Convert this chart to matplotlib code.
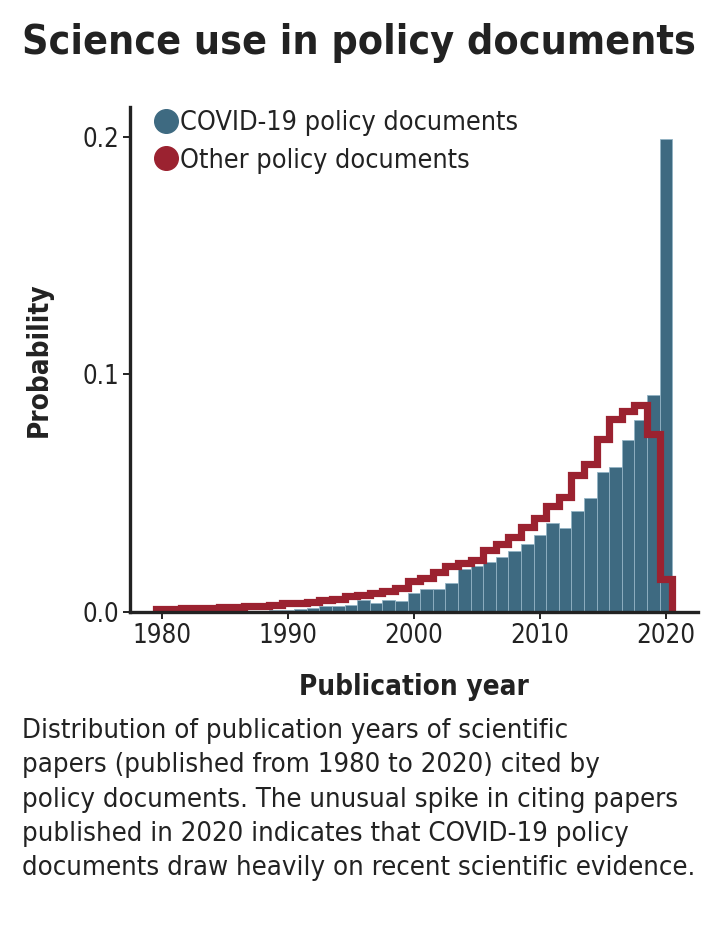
import matplotlib
matplotlib.use("Agg")
import matplotlib.pyplot as plt
from matplotlib.lines import Line2D
import numpy as np

years = list(range(1980, 2021))
covid = [0.0002, 0.0002, 0.0003, 0.0003, 0.0004, 0.0004, 0.0005, 0.0005, 0.0006, 0.0007,
         0.0010, 0.0013, 0.0018, 0.0027, 0.0025, 0.0030, 0.0050, 0.0039, 0.0049, 0.0046,
         0.0081, 0.0095, 0.0097, 0.0122, 0.0182, 0.0194, 0.0212, 0.0230, 0.0258, 0.0285,
         0.0324, 0.0373, 0.0355, 0.0425, 0.0481, 0.0591, 0.0609, 0.0723, 0.0807, 0.0915,
         0.1990]
other = [0.0013, 0.0014, 0.0015, 0.0017, 0.0018, 0.0020, 0.0022, 0.0024, 0.0026, 0.0030,
         0.0036, 0.0040, 0.0044, 0.0049, 0.0055, 0.0068, 0.0072, 0.0078, 0.0088, 0.0100,
         0.0131, 0.0142, 0.0170, 0.0194, 0.0205, 0.0220, 0.0260, 0.0288, 0.0317, 0.0359,
         0.0394, 0.0446, 0.0484, 0.0575, 0.0625, 0.0727, 0.0813, 0.0846, 0.0873, 0.0749,
         0.0138]
xticks = [1980, 1990, 2000, 2010, 2020]
yticks = [0.0, 0.1, 0.2]
ytick_labels = ["0.0", "0.1", "0.2"]
series_labels = ["COVID-19 policy documents", "Other policy documents"]
title = "Science use in policy documents"
xlabel = "Publication year"
ylabel = "Probability"
caption = ["Distribution of publication years of scientific",
           "papers (published from 1980 to 2020) cited by",
           "policy documents. The unusual spike in citing papers",
           "published in 2020 indicates that COVID-19 policy",
           "documents draw heavily on recent scientific evidence."]

TEAL = "#3e6a81"
RED = "#9b2230"
DARK = "#222222"

plt.rcParams['font.family'] = ['DejaVu Sans']
plt.rcParams['font.stretch'] = 'condensed'
fig = plt.figure(figsize=(7.17, 9.42), dpi=100)
ax = fig.add_axes([0.1813, 0.3503, 0.7922, 0.5361])

ax.bar(years, covid, width=1.0, color=TEAL, edgecolor="#93b3c4", linewidth=0.6, zorder=2)
edges = np.arange(years[0] - 0.5, years[-1] + 1.0, 1.0)
ax.stairs(other, edges, baseline=0, fill=False, color=RED, linewidth=5.2, zorder=3,
          joinstyle='miter')

ax.set_xlim(1977.46, 2022.54)
ax.set_ylim(0, 0.2126)
ax.set_xticks(xticks)
ax.set_xticklabels([str(t) for t in xticks])
ax.set_yticks(yticks)
ax.set_yticklabels(ytick_labels)

for s in ["top", "right"]:
    ax.spines[s].set_visible(False)
for s in ["left", "bottom"]:
    ax.spines[s].set_linewidth(2.4)
    ax.spines[s].set_color(DARK)
    ax.spines[s].set_zorder(5)
ax.tick_params(axis='both', direction='out', length=5, width=1.4, color=DARK,
               labelsize=18.5, labelcolor=DARK, pad=3)

ax.set_xlabel(xlabel, fontsize=20, fontweight='bold', color=DARK, labelpad=17)
ax.set_ylabel(ylabel, fontsize=20, fontweight='bold', color=DARK, labelpad=21)

handles = [Line2D([], [], marker='o', linestyle='none', markersize=17, color=TEAL),
           Line2D([], [], marker='o', linestyle='none', markersize=17, color=RED)]
ax.legend(handles, series_labels, loc='upper left', bbox_to_anchor=(0.02, 1.015),
          frameon=False, fontsize=19.4, handletextpad=0.05, labelspacing=0.42,
          handlelength=1.0, borderaxespad=0, labelcolor=DARK)

fig.text(22 / 717, 1 - 43 / 942, title, fontsize=29.4, fontweight='bold', color=DARK,
         va='center', ha='left')

for i, line in enumerate(caption):
    fig.text(22 / 717, 1 - (731 + 34.3 * i) / 942, line, fontsize=19.7, color=DARK,
             va='center', ha='left')

fig.savefig("out.png", dpi=100, facecolor='white')
